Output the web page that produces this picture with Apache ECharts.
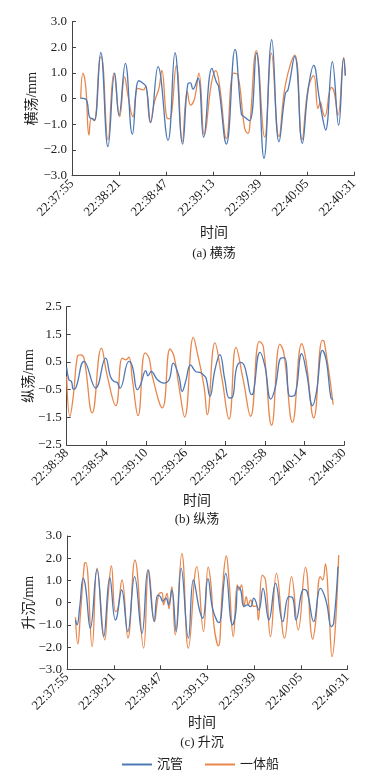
<!DOCTYPE html>
<html><head><meta charset="utf-8">
<script src="https://cdn.jsdelivr.net/npm/echarts@6/dist/echarts.min.js"></script>
<style>html,body{margin:0;padding:0;background:#fff}#c{width:384px;height:782px}</style>
</head><body><div id="c"></div>
<script>
// ---------- data ----------
// (a) 横荡 — time in seconds after 22:37:55
const sway_pipe = [[4.8,0.02],[7,0],[8.3,-0.1],[9.4,-0.65],[10.1,-0.75],[11.6,-0.78],[12.5,-0.85],[15.9,1.8],[19.9,-1.87],[23.6,1.0],[26,-0.65],[29.5,1.38],[33.4,-1.38],[36.9,0.7],[39.3,0.6],[41.1,0.45],[43.5,-0.93],[47.6,1.25],[53.1,-1.62],[57,1.79],[61.2,-1.77],[64.2,0.6],[65.5,0.62],[66.9,0.37],[69.7,0.8],[72.8,-1.5],[77.4,1.18],[79.8,0.66],[81.1,0.47],[85.4,-1.77],[90.2,1.92],[93.7,-0.6],[95.2,-0.7],[98.3,-0.86],[102,1.78],[106.2,-2.32],[110.5,2.3],[114.5,-1.68],[118,0.2],[119.5,0.35],[123.2,1.65],[127.4,-1.74],[130.6,0.33],[133.7,1.3],[136.6,0.1],[138.5,-0.7],[140.3,-1.22],[144,1.44],[147.5,-1.03],[150.3,1.57],[151.2,0.9]];
const sway_ship = [[4.8,0],[6.1,1.0],[7.6,0.47],[9.4,-1.42],[10.7,-0.77],[12.2,-0.85],[15.3,1.57],[16.2,1.63],[19.9,-1.6],[23.2,1.0],[26.4,-0.7],[29.1,0.85],[30.9,0.15],[33.7,-0.7],[36.5,0.4],[39.6,0.34],[40.7,0.47],[43.3,-0.93],[45.7,-0.1],[48.1,0.4],[49.7,1.1],[52.7,-0.77],[54,-0.78],[57.7,1.3],[61,-1.68],[63.8,0.27],[65.6,-0.25],[67.8,0],[70.2,1.0],[73.2,-1.42],[77.1,0.6],[79.5,1.09],[81.7,0.47],[85.4,-1.55],[89.4,1.0],[91.8,0.92],[95.5,-1.15],[97.4,-1.35],[98.3,-1.1],[102,1.87],[106.6,-1.5],[110.3,1.77],[114.5,-1.48],[118,0.53],[123.2,1.7],[127.2,-1.6],[130.6,0.4],[133.7,0.9],[136.1,-0.38],[137.4,-0.13],[138.5,-0.45],[139.8,-0.7],[143.5,0.44],[144.9,0.3],[147.2,-0.64],[150.3,1.6],[151.2,0.9]];
const xLabelsA = ['22:37:55','22:38:21','22:38:47','22:39:13','22:39:39','22:40:05','22:40:31'];
const yLabelsA = ['\u22123.0','\u22122.0','\u22121.0','0','1.0','2.0','3.0'];

// (b) 纵荡 — time in seconds after 22:38:38
const surge_pipe = [[0,0.3],[0.9,-0.14],[1.9,-0.2],[2.7,-0.48],[3.6,-0.45],[7.0,0.52],[11.7,-0.44],[15.7,0.64],[17.7,-0.04],[19.1,-0.2],[20.4,-0.24],[21.5,-0.45],[25.1,0.52],[26.5,0.34],[28.5,-0.5],[29.8,-0.32],[31.9,0.19],[32.8,0.0],[34.1,0.16],[36.6,-0.14],[39.2,-0.26],[41.3,-0.14],[43.0,0.46],[45.3,-0.02],[46.6,-0.56],[48.0,-0.2],[50.0,0.4],[52.0,0.16],[54.0,0.12],[55.1,0.04],[56.2,-0.08],[57.8,-0.74],[59.8,0.22],[61.8,0.77],[63.8,-0.14],[65.6,-0.8],[66.9,-0.77],[68.5,0.28],[70.2,0.49],[71.5,0.4],[72.6,0.04],[74.6,-0.68],[75.3,-0.62],[78.0,0.85],[80.0,0.34],[82.3,-0.84],[84.0,-0.48],[86.7,0.65],[88.0,0.65],[90.1,-0.74],[92.1,-0.68],[94.8,0.8],[96.8,0.1],[99.2,-1.08],[100.8,-0.56],[103.2,0.92],[104.8,0.52],[106.6,-0.8],[107.5,-0.86]];
const surge_ship = [[0,-0.02],[1.3,-1.46],[2.7,-0.7],[4.3,0.7],[5.6,0.76],[7.0,0.64],[10.3,-1.34],[14.0,1.0],[16.4,-0.02],[19.8,-1.08],[22.4,0.64],[23.8,0.58],[25.1,0.68],[26.5,-0.14],[28.8,-1.44],[31.6,0.83],[33.2,0.65],[34.5,0.0],[38.6,-1.16],[41.7,0.97],[43.3,0.7],[45.3,-0.38],[47.6,-1.49],[51.1,1.39],[52.7,0.83],[55.4,-0.38],[56.7,-1.4],[59.8,1.19],[62.5,-0.02],[65.5,-1.56],[68.3,1.03],[71.2,-0.14],[74.2,-1.46],[77.7,1.25],[79.3,1.07],[82.7,-1.79],[86.0,1.15],[87.6,0.83],[91.1,-1.68],[94.8,1.16],[96.5,0.58],[99.7,-1.52],[103.1,1.28],[103.9,1.24],[107.5,-1.04]];
const xLabelsB = ['22:38:38','22:38:54','22:39:10','22:39:26','22:39:42','22:39:58','22:40:14','22:40:30'];
const yLabelsB = ['\u22122.5','\u22121.5','\u22120.5','0.5','1.5','2.5'];

// (c) 升沉 — time in seconds after 22:37:55
const heave_pipe = [[4.7,-0.78],[5.6,-1.0],[7.1,-0.18],[9.0,1.09],[10.3,0.72],[13.0,-1.15],[16.7,1.5],[20.4,-1.53],[23.8,1.12],[26.9,-0.78],[27.8,-0.63],[30.4,0.57],[33.8,-1.3],[37.6,1.17],[41.7,-1.38],[45.0,1.47],[48.5,-0.85],[50.4,0.34],[51.9,0.27],[53.2,0.06],[55.0,0.2],[56.5,-0.1],[58.3,0.57],[60.7,-1.3],[63.5,1.54],[67.5,-1.6],[70.3,1.02],[73.7,-0.33],[75.5,-0.7],[78.4,1.08],[80.9,-0.25],[83.6,-0.85],[84.6,-0.9],[88.3,1.32],[92.0,-1.0],[93.8,-0.48],[95.1,0.72],[96.6,0.57],[98.4,-0.18],[100.3,-0.1],[102.1,-0.18],[103.9,0.2],[106.7,-0.33],[109.0,0.64],[112.3,-0.78],[116.0,0.87],[120.0,-0.85],[123.4,0.27],[125.6,0.2],[127.4,-0.78],[131.7,0.6],[133.5,0.5],[137.2,-0.85],[140.9,0.64],[142.7,0.42],[144.6,-0.1],[147.0,-1.08],[148.3,-0.93],[150.7,1.62]];
const heave_ship = [[4.7,-0.66],[6.0,-1.86],[7.5,-0.48],[9.7,1.77],[10.5,1.8],[14.0,-1.98],[16.7,1.55],[21.0,-1.68],[22.7,0.12],[24.7,1.65],[26.9,-0.4],[28.2,-0.3],[30.6,1.02],[33.9,-1.6],[37.8,1.92],[42.6,-2.05],[45.4,1.47],[48.7,-0.85],[50.0,-0.1],[51.3,0.42],[52.8,0.45],[53.7,-0.1],[55.6,0.42],[56.7,-0.27],[58.3,0.72],[60.2,-1.45],[63.9,2.22],[67.5,-2.05],[72.2,1.62],[75.9,-1.3],[78.5,1.6],[80.0,0.87],[81.8,-1.08],[84.2,-1.95],[86.4,0.57],[88.6,2.1],[90.1,1.02],[92.5,-1.53],[94.7,0.8],[95.6,0.57],[97.1,0.8],[98.4,-0.18],[99.7,0.27],[100.8,-0.1],[102.1,0.12],[103.9,-0.18],[105.3,-0.15],[106.4,-0.78],[108.6,1.24],[110.4,1.02],[113.2,-1.53],[116.5,1.32],[121.0,-1.6],[124.9,1.17],[128.6,-1.23],[132.6,1.59],[136.7,-1.65],[138.2,-0.93],[140.9,1.17],[142.2,1.02],[143.7,1.74],[145.6,-0.18],[147.4,-2.43],[151.1,2.14]];
const xLabelsC = xLabelsA;
const yLabelsC = yLabelsA;

const seriesNames = ['沉管','一体船'];
const captions = ['(a) 横荡','(b) 纵荡','(c) 升沉'];
const yNames = ['横荡/mm','纵荡/mm','升沉/mm'];
const xName = '时间';

// ---------- styling ----------
const FONT = '"Liberation Serif","Noto Sans CJK SC",serif';
const BLUE = '#4d78b6', ORANGE = '#e8874c', AX = '#444';

function xAxis(grid, max, interval, labels){
  return {type:'value', gridIndex:grid, min:0, max:max, interval:interval,
    axisLine:{onZero:false, lineStyle:{color:AX,width:1}}, axisTick:{inside:true,length:4,lineStyle:{color:AX}},
    splitLine:{show:false},
    axisLabel:{rotate:45, margin:6, color:'#222', fontFamily:FONT, fontSize:13, hideOverlap:false,
      formatter:v=>labels[Math.round(v/interval)]}};
}
function yAxis(grid, min, max, interval, labels, name, gap){
  return {type:'value', gridIndex:grid, min:min, max:max, interval:interval,
    name:name, nameLocation:'middle', nameGap:gap, nameRotate:90, nameMoveOverlap:false,
    nameTextStyle:{fontFamily:FONT, fontSize:14, color:'#222'},
    axisLine:{show:true,onZero:false,lineStyle:{color:AX,width:1}}, axisTick:{show:true,inside:true,length:4,lineStyle:{color:AX}},
    splitLine:{show:false},
    axisLabel:{margin:5, color:'#222', fontFamily:FONT, fontSize:13,
      formatter:v=>labels[Math.round((v-min)/interval)]}};
}
function line(name, data, color, idx){
  return {name:name, type:'line', xAxisIndex:idx, yAxisIndex:idx, data:data, smooth:0.45,
    showSymbol:false, symbol:'none', lineStyle:{color:color,width:1.3}, itemStyle:{color:color}, z: color===BLUE?3:2};
}
function txt(x, y, s, size){
  return {type:'text', x:x, y:y, style:{text:s, fontFamily:FONT, fontSize:size||13, fill:'#222', align:'center', verticalAlign:'middle'}};
}

const chart = echarts.init(document.getElementById('c'), null, {renderer:'canvas'});
chart.setOption({
  backgroundColor:'#fff', animation:false,
  grid:[
    {left:72, top:21.7, width:282, height:154},
    {left:66.7, top:306.7, width:277.6, height:138.3},
    {left:67, top:536, width:280.5, height:133.3}
  ],
  xAxis:[ xAxis(0,156,26,xLabelsA), xAxis(1,112,16,xLabelsB), xAxis(2,156,26,xLabelsC) ],
  yAxis:[ yAxis(0,-3,3,1,yLabelsA,yNames[0],33), yAxis(1,-2.5,2.5,1,yLabelsB,yNames[1],30), yAxis(2,-3,3,1,yLabelsC,yNames[2],31) ],
  legend:{data:seriesNames, left:117, top:753, itemWidth:30, itemHeight:2, itemGap:22, icon:'rect',
    textStyle:{fontFamily:FONT, fontSize:13, color:'#222'}},
  series:[
    line(seriesNames[1], sway_ship, ORANGE, 0), line(seriesNames[0], sway_pipe, BLUE, 0),
    line(seriesNames[1], surge_ship, ORANGE, 1), line(seriesNames[0], surge_pipe, BLUE, 1),
    line(seriesNames[1], heave_ship, ORANGE, 2), line(seriesNames[0], heave_pipe, BLUE, 2)
  ],
  graphic:[
    txt(214,233,xName,14), txt(214,254,captions[0],13),
    txt(197,501,xName,14), txt(197,520,captions[1],13),
    txt(202,723,xName,14), txt(202,743,captions[2],13)
  ]
});
</script></body></html>
